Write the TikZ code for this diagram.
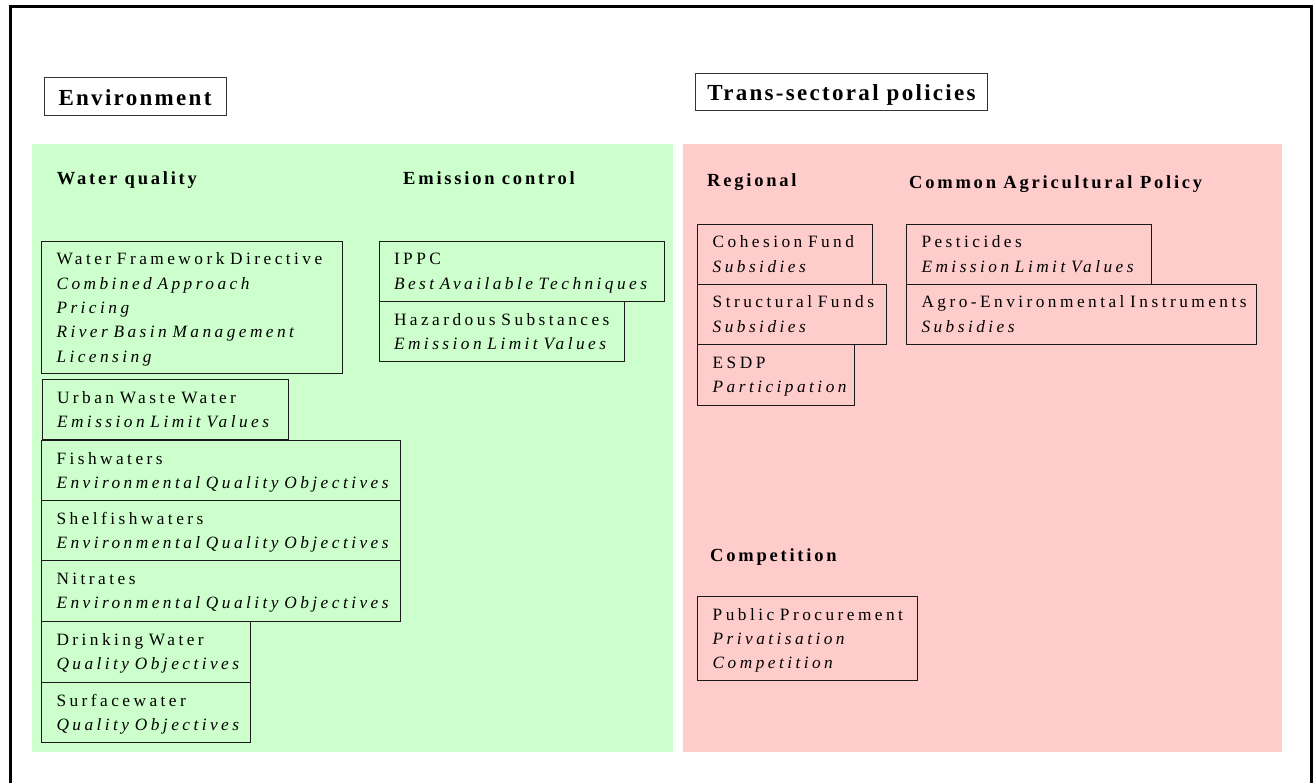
\documentclass[tikz,border=0pt]{standalone}
\usepackage{fontspec}
\setmainfont{Liberation Serif}
\newfontfamily\bodyfam{Liberation Serif}[LetterSpace=20]
\newfontfamily\secfam{Liberation Serif}[LetterSpace=15]
\newfontfamily\headfam{Liberation Serif}[LetterSpace=10]
\definecolor{envgreen}{HTML}{CCFFCC}
\definecolor{polpink}{HTML}{FFCCCC}
\begin{document}
\begin{tikzpicture}[x=1pt,y=-1pt,
  bodyfont/.style={font={\bodyfam\fontsize{17.3}{24.3}\selectfont\hbadness=10000\hfuzz=20pt}},
  ibox/.style={draw=black!90, line width=0.9pt, anchor=north west, inner xsep=15pt, inner ysep=0pt,
    outer sep=0pt, align=left, text height=24pt, bodyfont},
  sectitle/.style={anchor=base west, inner sep=0pt, font={\secfam\bfseries\fontsize{18.5}{20}\selectfont}},
  headbox/.style={draw=black!80, line width=0.9pt, inner xsep=0pt, inner ysep=0pt, outer sep=0pt,
    font={\headfam\bfseries\fontsize{23}{24}\selectfont}},
  panel/.style={draw=none, anchor=north west, inner sep=0pt, outer sep=0pt}
]
\useasboundingbox (0,0) rectangle (1316,783);
% outer frame (open at the bottom)
\draw[line width=3pt] (10,790) -- (10,7) -- (1311,7) -- (1311,790);

% panels
\node[panel, fill=envgreen, minimum width=641pt, minimum height=608pt] (envpanel) at (32,144) {};
\node[panel, fill=polpink, minimum width=599pt, minimum height=608pt] (polpanel) at (683,144) {};

% headings
\node[headbox, minimum width=182pt, text height=28pt, text depth=10pt] (env) at (135,96.7) {Environment};
\node[headbox, minimum width=292pt, text height=27pt, text depth=10.3pt] (trans) at (841.5,92.3) {Trans-sectoral policies};

% section titles
\node[sectitle] (wq) at (56.7,184.3) {Water quality};
\node[sectitle] (ec) at (403,185) {Emission control};
\node[sectitle] (reg) at (707,186.7) {Regional};
\node[sectitle] (cap) at (909,189) {Common Agricultural Policy};
\node[sectitle] (comp) at (710,561.7) {Competition};

% water quality boxes
\node[ibox, text width=270.5pt, text depth=108pt] (wfd) at (41.5,241)
  {Water~Framework~Directive\\\itshape Combined~Approach\\\itshape Pricing\\\itshape River~Basin~Management\\\itshape Licensing};
\node[ibox, text width=216pt, text depth=36pt] (uww) at (42,379)
  {Urban~Waste~Water\\\itshape Emission~Limit~Values};
\node[ibox, text width=328.5pt, text depth=36pt] (fish) at (41.5,440)
  {Fishwaters\\\itshape Environmental~Quality~Objectives};
\node[ibox, text width=328.5pt, text depth=36.5pt] (shelf) at (41.5,500)
  {Shelfishwaters\\\itshape Environmental~Quality~Objectives};
\node[ibox, text width=328.5pt, text depth=36.5pt] (nitr) at (41.5,560.5)
  {Nitrates\\\itshape Environmental~Quality~Objectives};
\node[ibox, text width=178.5pt, text depth=37pt] (drink) at (41.5,621)
  {Drinking~Water\\\itshape Quality~Objectives};
\node[ibox, text width=178.5pt, text depth=36pt] (surf) at (41.5,682)
  {Surfacewater\\\itshape Quality~Objectives};

% emission control boxes
\node[ibox, text width=255pt, text depth=36pt] (ippc) at (379,241)
  {IPPC\\\itshape Best~Available~Techniques};
\node[ibox, text width=215.5pt, text depth=36pt] (haz) at (379,301)
  {Hazardous~Substances\\\itshape Emission~Limit~Values};

% regional boxes
\node[ibox, text width=144.8pt, text depth=36pt] (coh) at (697.7,224)
  {Cohesion~Fund\\\itshape Subsidies};
\node[ibox, text width=158.3pt, text depth=36pt] (struct) at (697.7,284)
  {Structural~Funds\\\itshape Subsidies};
\node[ibox, text width=126.3pt, text depth=37pt] (esdp) at (697.7,344)
  {ESDP\\\itshape Participation};

% CAP boxes
\node[ibox, text width=215pt, text depth=36pt] (pest) at (906.5,224)
  {Pesticides\\\itshape Emission~Limit~Values};
\node[ibox, text width=319.5pt, text depth=36pt] (agro) at (906.5,284)
  {Agro-Environmental~Instruments\\\itshape Subsidies};

% competition box
\node[ibox, text width=189.3pt, text depth=60pt] (pp) at (697.7,596)
  {Public~Procurement\\\itshape Privatisation\\\itshape Competition};
\end{tikzpicture}
\end{document}
